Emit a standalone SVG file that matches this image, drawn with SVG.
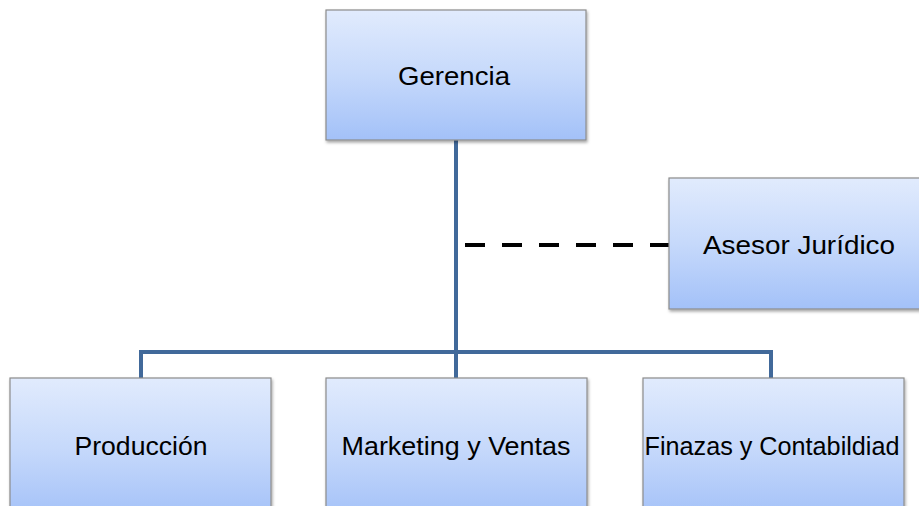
<svg xmlns="http://www.w3.org/2000/svg" width="919" height="506" viewBox="0 0 919 506">
<defs>
<linearGradient id="g" x1="0" y1="0" x2="0" y2="1">
<stop offset="0" stop-color="#E1EBFD"/>
<stop offset="0.5" stop-color="#C6D9FB"/>
<stop offset="1" stop-color="#A3C1F8"/>
</linearGradient>
<filter id="sh" x="-10%" y="-10%" width="130%" height="130%">
<feDropShadow dx="1" dy="2" stdDeviation="1.5" flood-color="#000" flood-opacity="0.35"/>
</filter>
</defs>
<style>
.box{fill:url(#g);stroke:#8C8C8C;stroke-width:1.2;filter:url(#sh)}
.t{font-family:"Liberation Sans","Open Sans",sans-serif;font-size:26px;fill:#000;text-anchor:middle}
.c{fill:none;stroke:#41699A;stroke-width:4}
</style>
<g id="connectors">
<path class="c" d="M456 140 V352 M141 378 V352 H771 V378 M456 352 V378"/>
<line x1="465" y1="245" x2="669" y2="245" stroke="#000" stroke-width="4" stroke-dasharray="20 17"/>
</g>
<g id="gerencia">
<rect class="box" x="326" y="10" width="260" height="130"/>
<text class="t" x="454" y="85" textLength="112" lengthAdjust="spacingAndGlyphs">Gerencia</text>
</g>
<g id="asesor">
<rect class="box" x="669" y="178" width="260" height="131"/>
<text class="t" x="799" y="254" textLength="192" lengthAdjust="spacingAndGlyphs">Asesor Jurídico</text>
</g>
<g id="produccion">
<rect class="box" x="10" y="378" width="261" height="140"/>
<text class="t" x="141" y="455" textLength="133" lengthAdjust="spacingAndGlyphs">Producción</text>
</g>
<g id="marketing">
<rect class="box" x="326" y="378" width="261" height="140"/>
<text class="t" x="456" y="455" textLength="229" lengthAdjust="spacingAndGlyphs">Marketing y Ventas</text>
</g>
<g id="finanzas">
<rect class="box" x="643" y="378" width="261" height="140"/>
<text class="t" x="772" y="455" textLength="255" lengthAdjust="spacingAndGlyphs">Finazas y Contabildiad</text>
</g>
</svg>
